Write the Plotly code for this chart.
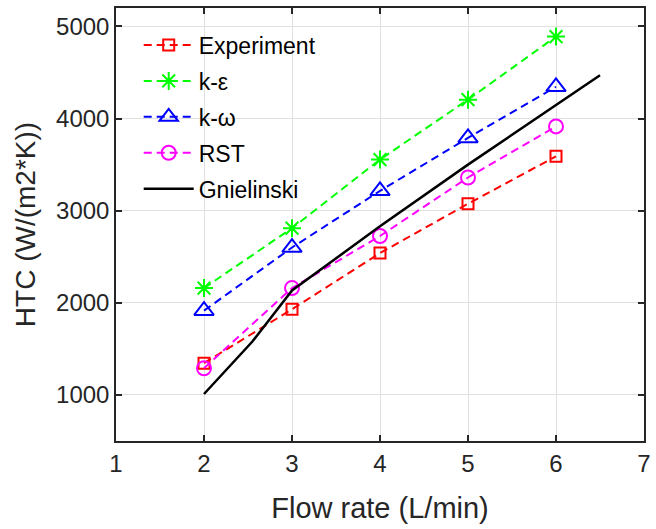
import plotly.graph_objects as go

flow = [2, 3, 4, 5, 6]
experiment = [1345, 1930, 2540, 3075, 3590]
k_eps = [2160, 2810, 3555, 4205, 4890]
k_omega = [1915, 2600, 3215, 3790, 4345]
rst = [1290, 2160, 2725, 3360, 3915]
gn_x = [2, 2.55, 3, 4, 5, 6, 6.5]
gn_y = [1010, 1580, 2135, 2830, 3500, 4150, 4470]

x_ticks = [1, 2, 3, 4, 5, 6, 7]
y_ticks = [1000, 2000, 3000, 4000, 5000]

font = "Liberation Sans, Arial, sans-serif"
dash = "8px,5px"

fig = go.Figure()
series = [
    ("Experiment", experiment, "#ff0000", "square-open", 11),
    ("k-ε", k_eps, "#00ff00", "asterisk-open", 15),
    ("k-ω", k_omega, "#0000ff", "triangle-up-open", 17),
    ("RST", rst, "#ff00ff", "circle-open", 14),
]
for i, (name, ys, col, sym, sz) in enumerate(series):
    fig.add_trace(go.Scatter(
        x=flow, y=ys, name=name, mode="lines+markers", legendgroup=f"g{i}",
        line=dict(color=col, width=2, dash=dash),
        marker=dict(symbol=sym, size=sz, color=col, line=dict(width=2, color=col)),
    ))
fig.add_trace(go.Scatter(
    x=gn_x, y=gn_y, name="Gnielinski", mode="lines", legendgroup="g5",
    line=dict(color="black", width=2.5),
))

axis_common = dict(
    showline=True, linecolor="#262626", linewidth=1.5, mirror="ticks",
    ticks="inside", ticklen=6, tickwidth=1.5, tickcolor="#262626",
    showgrid=True, gridcolor="#e0e0e0", gridwidth=1, zeroline=False,
    tickfont=dict(family=font, size=24, color="#262626"),
)
fig.update_xaxes(range=[1, 7], tickvals=x_ticks,
                 title=dict(text="Flow rate (L/min)", font=dict(family=font, size=29, color="#262626"), standoff=22),
                 **axis_common)
fig.update_yaxes(range=[500, 5200], tickvals=y_ticks,
                 title=dict(text="HTC (W/(m2*K))", font=dict(family=font, size=28, color="#262626"), standoff=12),
                 **axis_common)

fig.update_layout(
    width=656, height=529,
    margin=dict(l=116, r=5, t=8, b=88),
    plot_bgcolor="white", paper_bgcolor="white",
    legend=dict(x=0.043, y=0.964, xanchor="left", yanchor="top",
                font=dict(family=font, size=23, color="black"),
                bgcolor="rgba(255,255,255,0)", borderwidth=0,
                itemwidth=50, tracegroupgap=3),
    showlegend=True,
)
fig.write_html("out.html")
